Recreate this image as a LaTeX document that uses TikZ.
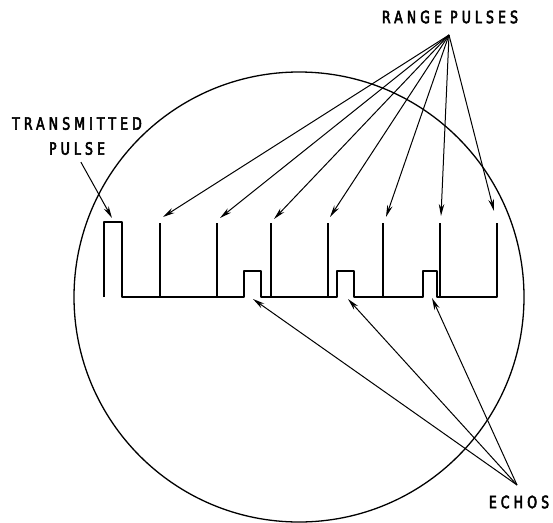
\documentclass[tikz,border=0pt]{standalone}
\usepackage{fontspec}
\newfontfamily\labelfont[LetterSpace=24,FakeStretch=0.82,FakeBold=3]{DejaVu Sans Condensed}
\usetikzlibrary{arrows.meta}
\begin{document}
\begin{tikzpicture}[x=1pt,y=-1pt,
  scope/.style={line width=1.3pt},
  trace/.style={line width=1.2pt, line join=round},
  pointer/.style={line width=1pt, -{Stealth[length=12pt,width=5.5pt]}},
  caption/.style={font=\labelfont\fontsize{17}{25}\selectfont, inner sep=0pt, align=center}]
\useasboundingbox (0,0) rectangle (553,522);

% CRT face
\draw[scope] (299,297) circle[radius=225pt];

% sweep trace: transmitted pulse, baseline with echoes, range marks
\draw[trace] (104,297) -- (104,222) -- (122,222) -- (122,297)
  -- (244,297) -- (244,271) -- (261,271) -- (261,297)
  -- (337,297) -- (337,271) -- (354,271) -- (354,297)
  -- (423,297) -- (423,271) -- (437,271) -- (437,297)
  -- (497,297) -- (497,223);
\foreach \x in {160,217,271,328,383,440}
  \draw[trace] (\x,297) -- (\x,223);

% labels
\node[caption] (tp) at (77,136) {TRANSMITTED\\PULSE};
\node[caption] (rp) at (450,17) {RANGE PULSES};
\node[caption] (ec) at (519,502) {ECHOS};

% arrow targets and sources
\coordinate (rsrc) at (449,35);
\coordinate (esrc) at (517,485);
\coordinate (tx) at (112,218);
\coordinate (m1) at (163,217);
\coordinate (m2) at (220,218);
\coordinate (m3) at (274,219);
\coordinate (m4) at (330,217);
\coordinate (m5) at (386,217);
\coordinate (m6) at (441,216);
\coordinate (m7) at (494,211);
\coordinate (e1) at (253,299);
\coordinate (e2) at (348,299);
\coordinate (e3) at (432,298);

\draw[pointer, shorten <=8pt] (tp.south) -- (tx);
\foreach \m in {m1,m2,m3,m4,m5,m6,m7}
  \draw[pointer] (rsrc) -- (\m);
\foreach \e in {e1,e2,e3}
  \draw[pointer] (esrc) -- (\e);
\end{tikzpicture}
\end{document}
